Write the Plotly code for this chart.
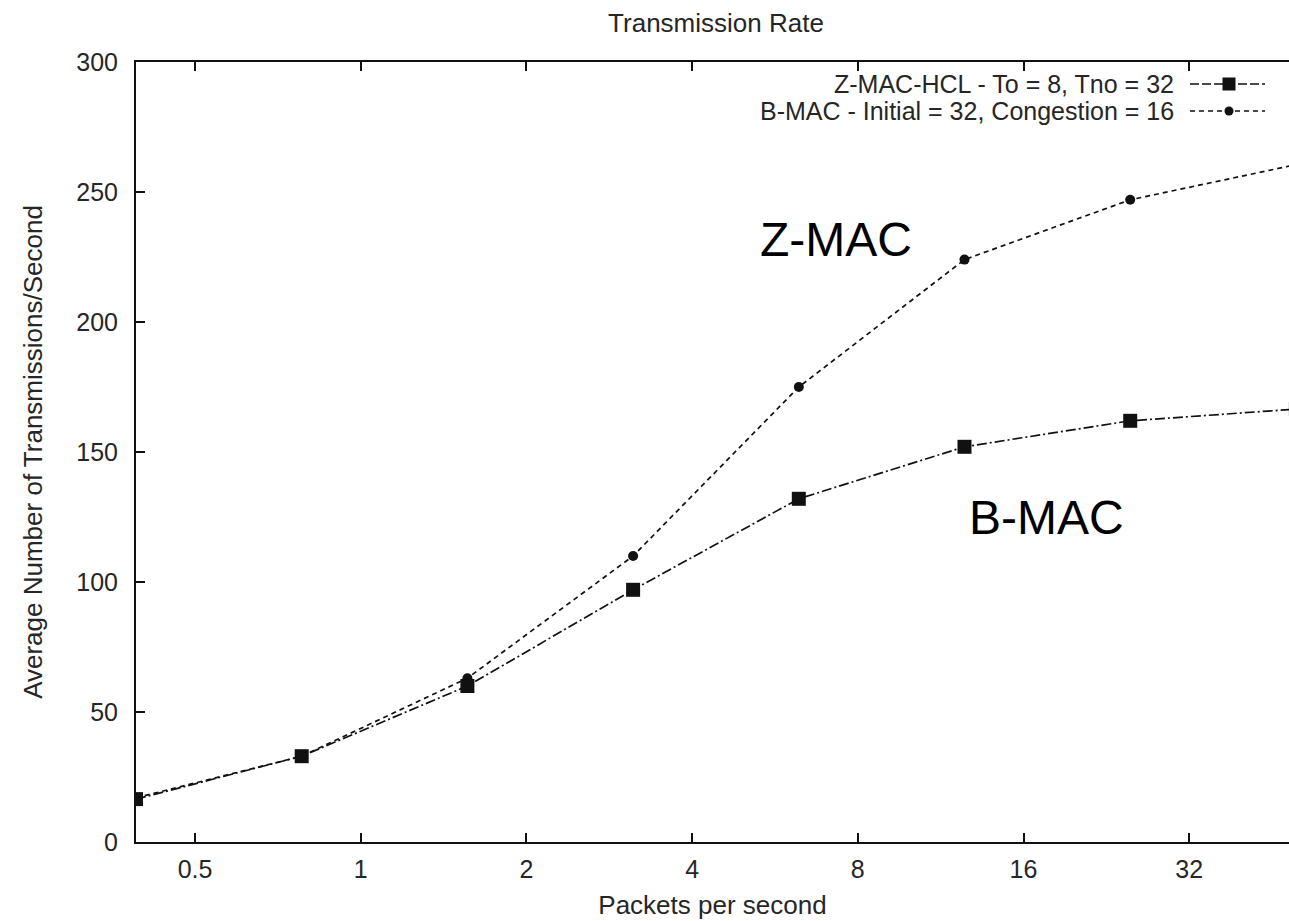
import plotly.graph_objects as go
import math

# ---- data ----
packets_per_second = [0.390625, 0.78125, 1.5625, 3.125, 6.25, 12.5, 25, 50]
zmac_hcl = [16.5, 33, 60, 97, 132, 152, 162, 166.5]
bmac = [17, 33, 63, 110, 175, 224, 247, 260.5]
x_tick_vals = [0.5, 1, 2, 4, 8, 16, 32]
x_tick_text = ["0.5", "1", "2", "4", "8", "16", "32"]
y_tick_vals = [0, 50, 100, 150, 200, 250, 300]
series_names = ["Z-MAC-HCL - To = 8, Tno = 32", "B-MAC - Initial = 32, Congestion = 16"]
region_labels = ["Z-MAC", "B-MAC"]

W, H = 1289, 921
L, T, B, R = 136, 62, 79, 0
pw, ph = W - L - R, H - T - B
px_per_doubling = 165.7
x_lo = packets_per_second[0]
x_hi = x_lo * 2 ** (pw / px_per_doubling)

FONT = "Liberation Sans, Arial, Helvetica, sans-serif"
TXT = "#262626"
INK = "#111111"

def px(xp):
    return (xp - L) / pw

def py(yp):
    return (H - B - yp) / ph

fig = go.Figure()
fig.add_trace(go.Scatter(
    x=packets_per_second, y=zmac_hcl, name=series_names[0], mode="lines+markers",
    line=dict(color=INK, width=1.7, dash="10px,3px,2px,3px"),
    marker=dict(symbol="square", size=14, color=INK),
))
fig.add_trace(go.Scatter(
    x=packets_per_second, y=bmac, name=series_names[1], mode="lines+markers",
    line=dict(color=INK, width=1.7, dash="5px,4px"),
    marker=dict(symbol="circle", size=10, color=INK),
))

# custom legend (text right-aligned, key on the right, like gnuplot)
legend_rows = [(84, "square", 13, "9px,3px"), (111, "circle", 9, "5px,4px")]
for (yp, sym, msz, dash), name in zip(legend_rows, series_names):
    fig.add_annotation(xref="paper", yref="paper", x=px(1176), y=py(yp), text=name,
                       showarrow=False, xanchor="right", yanchor="middle",
                       font=dict(family=FONT, size=25, color=TXT))
    fig.add_shape(type="line", xref="paper", yref="paper",
                  x0=px(1190), x1=px(1265), y0=py(yp), y1=py(yp),
                  line=dict(color=INK, width=1.7, dash=dash))
    h = msz / 2
    shape_type = "rect" if sym == "square" else "circle"
    fig.add_shape(type=shape_type, xref="paper", yref="paper",
                  x0=px(1229 - h), x1=px(1229 + h), y0=py(yp + h), y1=py(yp - h),
                  line=dict(width=0), fillcolor=INK)

# in-plot labels
for (xp, yp), label in zip([(836, 240), (1046, 517)], region_labels):
    fig.add_annotation(xref="paper", yref="paper", x=px(xp), y=py(yp), text=label,
                       showarrow=False, xanchor="center", yanchor="middle",
                       font=dict(family=FONT, size=48, color="#000"))

fig.update_layout(
    width=W, height=H,
    margin=dict(l=L, r=R, t=T, b=B, pad=0),
    paper_bgcolor="white", plot_bgcolor="white",
    showlegend=False,
    title=dict(text="Transmission Rate", x=716 / W, xref="container", xanchor="center",
               y=1 - 23 / H, yref="container", yanchor="middle",
               font=dict(family=FONT, size=26, color=TXT)),
    xaxis=dict(
        type="log", range=[math.log10(x_lo), math.log10(x_hi)],
        tickvals=x_tick_vals, ticktext=x_tick_text,
        ticks="inside", ticklen=9, tickwidth=1.5, tickcolor=INK,
        showline=True, linecolor=INK, linewidth=2, mirror="ticks",
        showgrid=False, zeroline=False, ticklabelstandoff=4,
        tickfont=dict(family=FONT, size=25, color=TXT),
        title=dict(text="Packets per second", standoff=14,
                   font=dict(family=FONT, size=26, color=TXT)),
    ),
    yaxis=dict(
        range=[0, 300], tickvals=y_tick_vals,
        ticks="inside", ticklen=9, tickwidth=1.5, tickcolor=INK,
        showline=True, linecolor=INK, linewidth=2, mirror=False,
        showgrid=False, zeroline=False, ticklabelstandoff=11,
        tickfont=dict(family=FONT, size=25, color=TXT),
        title=dict(text="Average Number of Transmissions/Second", standoff=26,
                   font=dict(family=FONT, size=26, color=TXT)),
    ),
    yaxis2=dict(
        overlaying="y", side="right", range=[0, 300], tickvals=y_tick_vals,
        showticklabels=False, ticks="inside", ticklen=9, tickwidth=1.5, tickcolor=INK,
        showline=False, showgrid=False, zeroline=False,
    ),
)

fig.write_html("out.html")
